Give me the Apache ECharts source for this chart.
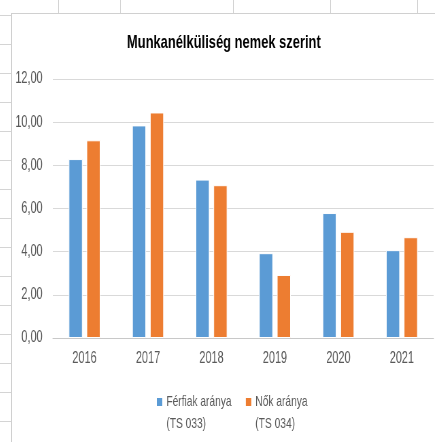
<!DOCTYPE html>
<html>
<head>
<meta charset="utf-8">
<script src="https://cdn.jsdelivr.net/npm/echarts@6/dist/echarts.min.js"></script>
<style>
  html, body { margin: 0; padding: 0; background: #fff; }
  body { width: 435px; height: 442px; position: relative; overflow: hidden; }
  /* spreadsheet cells behind the chart */
  #sheet {
    position: absolute; left: 0; top: 0; width: 435px; height: 442px;
    background:
      linear-gradient(#d4d4d4, #d4d4d4) 58px 0 / 1px 14px no-repeat,
      linear-gradient(#d4d4d4, #d4d4d4) 120px 0 / 1px 14px no-repeat,
      linear-gradient(#d4d4d4, #d4d4d4) 233px 0 / 1px 14px no-repeat,
      linear-gradient(#d4d4d4, #d4d4d4) 330px 0 / 1px 14px no-repeat,
      linear-gradient(#d4d4d4, #d4d4d4) 417px 0 / 1px 14px no-repeat,
      repeating-linear-gradient(to bottom, transparent 0, transparent 14px, #d4d4d4 14px, #d4d4d4 15px, transparent 15px, transparent 29px) 0 1px / 11px 442px no-repeat;
  }
  #frame {
    position: absolute; left: 11px; top: 13px; width: 424px; height: 429px;
    border-left: 1px solid #d0d0d0; border-top: 1px solid #d0d0d0;
    background: #fff; overflow: hidden;
  }
  /* the screenshot is squeezed sideways, so draw wider and squeeze */
  #chart {
    position: absolute; left: 0; top: 0; width: 623px; height: 429px;
    transform: scaleX(0.68); transform-origin: 0 0;
  }
</style>
</head>
<body>
<div id="sheet"></div>
<div id="frame"><div id="chart"></div></div>
<script>
var years = ['2016', '2017', '2018', '2019', '2020', '2021'];
var ferfiak = [8.29, 9.85, 7.34, 3.93, 5.79, 4.07];
var nok = [9.16, 10.45, 7.08, 2.92, 4.92, 4.67];
var seriesNames = ['Férfiak aránya\n(TS 033)', 'Nők aránya\n(TS 034)'];

var font = "'Liberation Sans', Arial, sans-serif";
var gray = '#595959';
// legend square sits level with the first line of the name
var legendIcon = 'path://M0,0H10V10H0Z M0,32L0.1,32';

var chart = echarts.init(document.getElementById('chart'));

var option = {
  animation: false,
  title: {
    text: 'Munkanélküliség nemek szerint',
    left: 'center',
    top: 14,
    textStyle: { fontFamily: font, fontSize: 19, fontWeight: 'bold', color: '#000' }
  },
  legend: {
    left: 206,
    top: 372,
    itemWidth: 10,
    itemHeight: 32,
    itemGap: 19,
    icon: legendIcon,
    textStyle: { fontFamily: font, fontSize: 15, color: gray, lineHeight: 22 }
  },
  grid: { left: 60, right: 3, top: 65, bottom: 105 },
  xAxis: {
    type: 'category',
    data: years,
    axisTick: { show: false },
    axisLine: { lineStyle: { color: '#c8c8c8', width: 1 } },
    axisLabel: { fontFamily: font, fontSize: 16, color: gray, margin: 13 }
  },
  yAxis: {
    type: 'value',
    min: 0,
    max: 12,
    interval: 2,
    axisLine: { show: false },
    axisTick: { show: false },
    splitLine: { lineStyle: { color: '#d9d9d9', width: 1 } },
    axisLabel: {
      fontFamily: font, fontSize: 16, color: gray, margin: 15,
      formatter: function (v) { return v.toFixed(2).replace('.', ','); }
    }
  },
  series: [
    {
      name: seriesNames[0],
      type: 'bar',
      data: ferfiak,
      barCategoryGap: '50%',
      barGap: '28%',
      itemStyle: { color: '#5B9BD5', borderColor: '#ffffff', borderWidth: 1 }
    },
    {
      name: seriesNames[1],
      type: 'bar',
      data: nok,
      itemStyle: { color: '#ED7D31', borderColor: '#ffffff', borderWidth: 1 }
    }
  ]
};

chart.setOption(option);
</script>
</body>
</html>
